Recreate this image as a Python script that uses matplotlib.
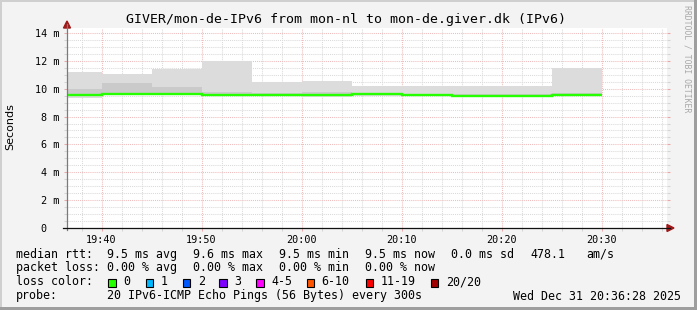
import matplotlib
matplotlib.use("Agg")
import matplotlib.pyplot as plt
from matplotlib.patches import Rectangle, Polygon
from matplotlib.lines import Line2D

# ---------------- data ----------------
# step edges in minutes after 19:00 (5-minute SmokePing steps)
step_edges = [35, 40, 45, 50, 55, 60, 65, 70, 75, 80, 85, 90]
median_rtt = [9.52, 9.62, 9.62, 9.52, 9.52, 9.58, 9.60, 9.52, 9.50, 9.50, 9.54]   # ms
smoke_min  = [9.35, 9.55, 9.55, 9.45, 9.45, 9.37, 9.50, 9.45, 9.37, 9.37, 9.45]   # ms
smoke_max  = [11.17, 11.05, 11.38, 12.00, 10.48, 10.55, 10.21, 10.20, 10.17, 10.17, 11.48]
smoke_mid  = [9.98, 10.38, 10.09, 9.75, 9.70, 9.75, 9.70, 9.65, 9.65, 9.65, 9.69]

x_major = [40, 50, 60, 70, 80, 90]
x_labels = ["19:40", "19:50", "20:00", "20:10", "20:20", "20:30"]
y_major = [0, 2, 4, 6, 8, 10, 12, 14]
y_labels = ["0  ", "2 m", "4 m", "6 m", "8 m", "10 m", "12 m", "14 m"]

loss_labels = ["0", "1", "2", "3", "4-5", "6-10", "11-19", "20/20"]
loss_colors = ["#26ff00", "#00b8ff", "#0059ff", "#7e00ff", "#ff00ff", "#ff5500", "#ff0000", "#a10000"]

title = "GIVER/mon-de-IPv6 from mon-nl to mon-de.giver.dk (IPv6)"
stats_rtt = ["9.5 ms avg", "9.6 ms max", "9.5 ms min", "9.5 ms now", "0.0 ms sd", "478.1", "am/s"]
stats_loss = ["0.00 % avg", "0.00 % max", "0.00 % min", "0.00 % now"]
probe_text = "20 IPv6-ICMP Echo Pings (56 Bytes) every 300s"
stamp = "Wed Dec 31 20:36:28 2025"

# ---------------- figure ----------------
W, H = 697, 310
fig = plt.figure(figsize=(W / 100, H / 100), dpi=100, facecolor="#f3f3f3")

def fx(px):
    return px / W

def fy(py):
    return 1 - py / H

L, R, T, B = 67, 667, 28, 228
ax = fig.add_axes([fx(L), fy(B), (R - L) / W, (B - T) / H])
ax.set_facecolor("white")
ax.set_xlim(36.55, 96.55)
ax.set_ylim(0, (B - T) / 13.93)
for s in ax.spines.values():
    s.set_visible(False)

mono = "DejaVu Sans Mono"

# grid
ax.set_xticks(x_major)
ax.set_xticks([m for m in range(38, 97, 2)], minor=True)
ax.set_yticks(y_major)
ax.set_yticks([v * 0.5 for v in range(0, 29)], minor=True)
ax.grid(which="minor", color="#dadada", lw=0.75, ls=(0, (1, 1)), zorder=0)
ax.grid(which="major", color="#f0bcbc", lw=0.75, ls=(0, (1, 1)), zorder=0.5)
ax.set_axisbelow(True)
ax.set_xticklabels(x_labels, fontfamily=mono, fontsize=7.3)
ax.set_yticklabels(y_labels, fontfamily=mono, fontsize=7.3)
ax.tick_params(axis="both", which="major", length=2, width=0.75, color="#e8a8a8")
ax.tick_params(axis="both", which="minor", length=2, width=0.75, color="#d4d4d4")
ax.tick_params(axis="y", which="both", right=True, pad=3.6)
ax.tick_params(axis="x", which="both", top=False, pad=3.0)

# smoke
ax.stairs(smoke_max, step_edges, baseline=smoke_min, fill=True, color="#dcdcdc", lw=0, zorder=2)
ax.stairs(smoke_mid, step_edges, baseline=median_rtt, fill=True, color="#cacaca", lw=0, zorder=3)
ax.stairs(median_rtt, step_edges, baseline=None, color="#26ff00", lw=1.7, zorder=4)

# axis lines and arrows
fig.add_artist(Line2D([fx(L), fx(L)], [fy(B + 2), fy(24)], color="#7a7a7a", lw=0.9, transform=fig.transFigure))
fig.add_artist(Line2D([fx(L - 4), fx(670)], [fy(B), fy(B)], color="#111111", lw=0.9, transform=fig.transFigure))
fig.add_artist(Polygon([[fx(L - 3.5), fy(28)], [fx(L + 3.5), fy(28)], [fx(L), fy(21)]],
                       closed=True, color="#a01818", transform=fig.transFigure))
fig.add_artist(Polygon([[fx(667), fy(B - 3.5)], [fx(667), fy(B + 3.5)], [fx(674), fy(B)]],
                       closed=True, color="#a01818", transform=fig.transFigure))

# titles
fig.text(fx(346), fy(19), title, ha="center", va="center", fontfamily=mono, fontsize=9.5)
fig.text(fx(10), fy(127), "Seconds", rotation=90, ha="center", va="center",
         fontfamily="DejaVu Sans", fontsize=8)
fig.text(fx(687), fy(5), "RRDTOOL / TOBI OETIKER", rotation=270, ha="center", va="top",
         fontfamily=mono, fontsize=5.9, color="#a8a8a8")

# legend
fs = 8.4
fig.text(fx(16), fy(254.3), "median rtt:", ha="left", va="center", fontfamily=mono, fontsize=fs)
for xp, t in zip([107.3, 193.3, 279.3, 365, 451, 530, 586], stats_rtt):
    fig.text(fx(xp), fy(254.3), t, ha="left", va="center", fontfamily=mono, fontsize=fs)
fig.text(fx(16), fy(267.7), "packet loss:", ha="left", va="center", fontfamily=mono, fontsize=fs)
for xp, t in zip([107.3, 193.3, 279.3, 365], stats_loss):
    fig.text(fx(xp), fy(267.7), t, ha="left", va="center", fontfamily=mono, fontsize=fs)
fig.text(fx(16), fy(281.7), "loss color:", ha="left", va="center", fontfamily=mono, fontsize=fs)
box_x = [108.3, 145.7, 182.7, 219.3, 256, 306.7, 365.7, 430.7]
for bx, lab, col in zip(box_x, loss_labels, loss_colors):
    fig.add_artist(Rectangle((fx(bx), fy(286.5)), 7.5 / W, 8 / H, facecolor=col,
                             edgecolor="black", lw=0.8, transform=fig.transFigure))
    fig.text(fx(bx + 15), fy(281.7), lab, ha="left", va="center", fontfamily=mono, fontsize=fs)
fig.text(fx(16), fy(296), "probe:", ha="left", va="center", fontfamily=mono, fontsize=fs)
fig.text(fx(107.3), fy(296), probe_text, ha="left", va="center", fontfamily=mono, fontsize=fs)
fig.text(fx(681), fy(296), stamp, ha="right", va="center", fontfamily=mono, fontsize=fs)

# image border (shade)
fig.add_artist(Rectangle((0, 1 - 2 / H), 1, 2 / H, color="#cfcfcf", lw=0, transform=fig.transFigure))
fig.add_artist(Rectangle((0, 0), 2 / W, 1, color="#cfcfcf", lw=0, transform=fig.transFigure))
fig.add_artist(Rectangle((0, 0), 1, 3 / H, color="#9e9e9e", lw=0, transform=fig.transFigure))
fig.add_artist(Rectangle((1 - 3 / W, 0), 3 / W, 1, color="#9e9e9e", lw=0, transform=fig.transFigure))

fig.savefig("out.png", dpi=100, facecolor=fig.get_facecolor())
